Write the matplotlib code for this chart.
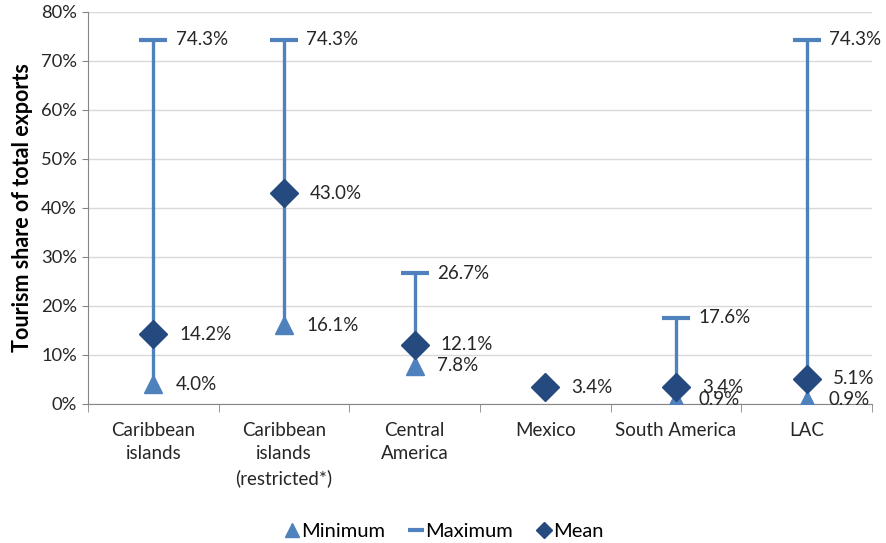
import numpy as np
import matplotlib.pyplot as plt
from matplotlib.lines import Line2D

categories = ["Caribbean\nislands", "Caribbean\nislands\n(restricted*)", "Central\nAmerica",
              "Mexico", "South America", "LAC"]
minimum = [4.0, 16.1, 7.8, np.nan, 0.9, 0.9]
maximum = [74.3, 74.3, 26.7, np.nan, 17.6, 74.3]
mean = [14.2, 43.0, 12.1, 3.4, 3.4, 5.1]

c_light = "#4F81BD"
c_dark = "#254A7F"
plt.rcParams['font.family'] = ['Lato', 'DejaVu Sans']

fig = plt.figure(figsize=(8.87, 5.43), dpi=100)
ax = fig.add_axes([0.0992, 0.256, 0.8838, 0.722])

x = np.arange(len(categories))
for i in x:
    if not np.isnan(minimum[i]):
        ax.plot([i, i], [minimum[i], maximum[i]], color=c_light, lw=2.4, zorder=2)
ax.plot(x, maximum, ls='none', marker='_', ms=20, mew=3, color=c_light, zorder=3)
ax.plot(x, minimum, ls='none', marker='^', ms=13, color=c_light, zorder=3)
ax.plot(x, mean, ls='none', marker='D', ms=14, color=c_dark, zorder=4)

fs = 13.5
for i in x:
    for v, dx in ((maximum[i], 0.17), (minimum[i], 0.17), (mean[i], 0.2)):
        if not np.isnan(v):
            ax.text(i + dx, v, f"{v:.1f}%", ha='left', va='center', fontsize=fs,
                    color='#262626', zorder=5)

ax.set_xlim(-0.5, len(categories) - 0.5)
ax.set_ylim(0, 80)
ax.set_yticks(np.arange(0, 81, 10))
ax.set_yticklabels([f"{t}%" for t in range(0, 81, 10)], fontsize=13.2, color='#262626')
ax.set_xticks(x)
ax.set_xticklabels(categories, fontsize=fs, color='#262626', linespacing=1.45)
ax.set_xticks(np.arange(-0.5, len(categories)), minor=True)
ax.tick_params(axis='x', which='major', length=0, pad=13)
ax.tick_params(axis='x', which='minor', length=6, color='#868686')
ax.tick_params(axis='y', length=4, color='#868686', pad=4)
ax.grid(axis='y', color='#D9D9D9', lw=1)
ax.set_axisbelow(True)
for s in ('top', 'right'):
    ax.spines[s].set_visible(False)
for s in ('left', 'bottom'):
    ax.spines[s].set_color('#868686')
ax.set_ylabel("Tourism share of total exports", fontsize=15.5, fontweight='bold',
              color='#000000', labelpad=6)

handles = [
    Line2D([], [], ls='none', marker='^', ms=10, color=c_light, label='Minimum'),
    Line2D([], [], ls='none', marker='_', ms=12, mew=3, color=c_light, label='Maximum'),
    Line2D([], [], ls='none', marker='D', ms=8, color=c_dark, label='Mean'),
]
fig.legend(handles=handles, loc='center', bbox_to_anchor=(0.5, 0.022), ncol=3, frameon=False,
           fontsize=14.5, handletextpad=0.0, columnspacing=1.1, handlelength=0.9)

fig.savefig("out.png", dpi=100)
